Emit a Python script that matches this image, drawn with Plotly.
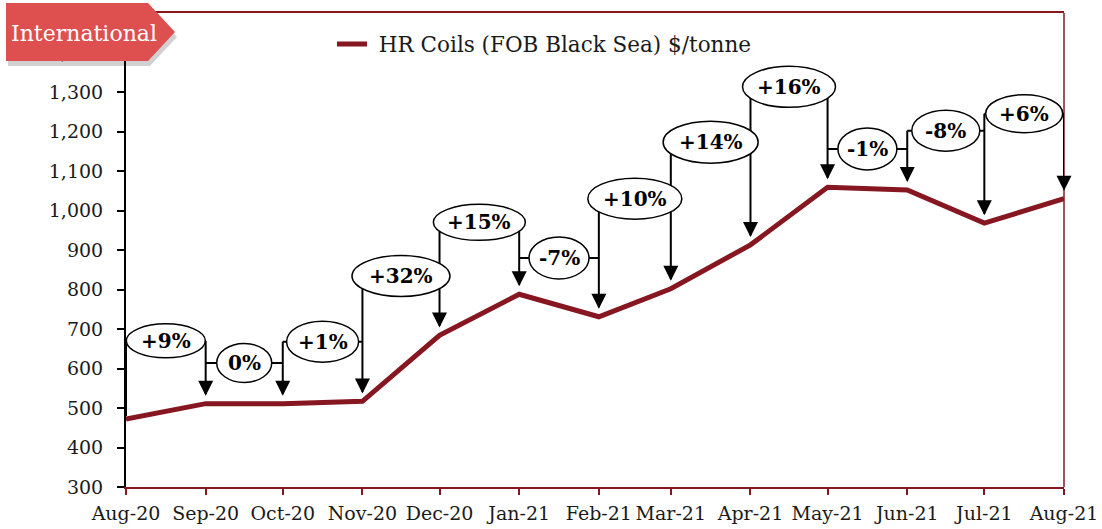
import pandas as pd
import plotly.graph_objects as go

# ---------------- data ----------------
months = ["2020-08-01", "2020-09-01", "2020-10-01", "2020-11-01", "2020-12-01",
          "2021-01-01", "2021-02-01", "2021-03-01", "2021-04-01", "2021-05-01",
          "2021-06-01", "2021-07-01", "2021-08-01"]
month_labels = ["Aug-20", "Sep-20", "Oct-20", "Nov-20", "Dec-20", "Jan-21", "Feb-21",
                "Mar-21", "Apr-21", "May-21", "Jun-21", "Jul-21", "Aug-21"]
prices = [472, 511, 511, 517, 684, 788, 731, 802, 913, 1059, 1052, 968, 1030]
change_labels = ["+9%", "0%", "+1%", "+32%", "+15%", "-7%", "+10%", "+14%", "+16%",
                 "-1%", "-8%", "+6%"]
label_levels = [670, 614, 668, 834, 970, 880, 1030, 1173, 1313, 1156, 1202, 1245]
y_ticks = [300, 400, 500, 600, 700, 800, 900, 1000, 1100, 1200, 1300, 1400]
series_name = "HR Coils (FOB Black Sea) $/tonne"
tag_text = "International"

# ---------------- style ----------------
FONT = "DejaVu Serif"
DARK_RED = "#861720"
TAG_RED = "#de4f4f"
ell_w = [79, 55, 72, 98, 92, 60, 94, 95, 93, 59, 68, 77]
ell_h = [34, 39, 41, 41, 36, 42, 41, 42, 41, 42, 41, 38]
TIP_GAP = 20  # value units between arrow tip and line

W, H = 1102, 529
ML, MR, MT, MB = 126, 38, 13, 42
PW, PH = W - ML - MR, H - MT - MB


def px_x(p):
    return (p - ML) / PW


def px_y(p):
    return (H - MB - p) / PH


fig = go.Figure()
fig.add_trace(go.Scatter(x=months, y=prices, mode="lines", name="\u00a0" + series_name,
                         line=dict(color=DARK_RED, width=5)))

shapes = []
annotations = []

# right frame line
shapes.append(dict(type="line", xref="paper", yref="paper", x0=1, x1=1, y0=0, y1=1,
                   line=dict(color=DARK_RED, width=1.5), layer="above"))

ts = [pd.Timestamp(m) for m in months]
mids = [(ts[i] + (ts[i + 1] - ts[i]) / 2).isoformat() for i in range(len(months) - 1)]

# horizontal connectors at each label level
for i, lv in enumerate(label_levels):
    shapes.append(dict(type="line", xref="x", yref="y", x0=months[i], x1=months[i + 1],
                       y0=lv, y1=lv, line=dict(color="black", width=2), layer="above"))

# vertical legs
for j, m in enumerate(months):
    adj = []
    if j - 1 >= 0:
        adj.append(label_levels[j - 1])
    if j < len(label_levels):
        adj.append(label_levels[j])
    top = max(adj)
    bottom = prices[j] + (8 if j == 0 else TIP_GAP + 4)
    shapes.append(dict(type="line", xref="x", yref="y", x0=m, x1=m, y0=top, y1=bottom,
                       line=dict(color="black", width=2), layer="above"))
    if j > 0:
        annotations.append(dict(x=m, y=prices[j] + TIP_GAP, xref="x", yref="y",
                                text="", showarrow=True, ax=0, ay=-16,
                                arrowhead=2, arrowsize=1.5, arrowwidth=2,
                                arrowcolor="black", standoff=0))

# ellipses + labels
for i, (lab, lv) in enumerate(zip(change_labels, label_levels)):
    shapes.append(dict(type="circle", xref="x", yref="y",
                       xsizemode="pixel", ysizemode="pixel",
                       xanchor=mids[i], yanchor=lv,
                       x0=-ell_w[i] / 2, x1=ell_w[i] / 2,
                       y0=-ell_h[i] / 2, y1=ell_h[i] / 2,
                       fillcolor="white", line=dict(color="black", width=1.5),
                       layer="above"))
    annotations.append(dict(x=mids[i], y=lv, xref="x", yref="y", text="<b>%s</b>" % lab,
                            showarrow=False, xanchor="center", yanchor="middle",
                            font=dict(family=FONT, size=20, color="black")))

# "International" tag
tag_pts = [(6, 3), (148, 3), (175, 32), (148, 61), (6, 61)]


def tag_path(dx, dy):
    pts = [(px_x(x + dx), px_y(y + dy)) for x, y in tag_pts]
    return "M " + " L ".join("%f,%f" % p for p in pts) + " Z"


shapes.append(dict(type="path", xref="paper", yref="paper", path=tag_path(2, 5),
                   fillcolor="rgba(0,0,0,0.18)", line=dict(width=0), layer="above"))
shapes.append(dict(type="path", xref="paper", yref="paper", path=tag_path(0, 0),
                   fillcolor=TAG_RED, line=dict(width=0), layer="above"))
annotations.append(dict(x=px_x(9), y=px_y(33), xref="paper", yref="paper",
                        text=tag_text, showarrow=False, xanchor="left", yanchor="middle",
                        font=dict(family=FONT, size=22, color="white")))

fig.update_layout(
    width=W, height=H,
    margin=dict(l=ML, r=MR, t=MT, b=MB, autoexpand=False),
    paper_bgcolor="white", plot_bgcolor="white",
    font=dict(family=FONT, size=19, color="#1a1a1a"),
    showlegend=True,
    legend=dict(x=px_x(332), y=px_y(44), xanchor="left", yanchor="middle",
                font=dict(family=FONT, size=21.5, color="#1a1a1a"),
                bgcolor="rgba(0,0,0,0)", borderwidth=0),
    shapes=shapes,
    annotations=annotations,
)
fig.update_xaxes(type="date", range=[months[0], months[-1]],
                 tickmode="array", tickvals=months, ticktext=month_labels,
                 ticks="outside", ticklen=6, tickwidth=2, tickcolor=DARK_RED,
                 showline=True, linecolor=DARK_RED, linewidth=2, mirror=True,
                 showgrid=False, zeroline=False, automargin=False, ticklabelstandoff=2,
                 tickfont=dict(family=FONT, size=19, color="#1a1a1a"))
fig.update_yaxes(range=[300, 1500], tickmode="array", tickvals=y_ticks,
                 tickformat=",d", ticks="outside", ticklen=7, tickwidth=1.5,
                 tickcolor="black", showline=True, linecolor="black", linewidth=2,
                 showgrid=False, zeroline=False, ticklabelstandoff=10, automargin=False,
                 tickfont=dict(family=FONT, size=19, color="#1a1a1a"))

fig.write_html("out.html", config={"displayModeBar": False},
               post_script="document.body.style.margin='0';"
                           "document.body.style.overflow='hidden';")
